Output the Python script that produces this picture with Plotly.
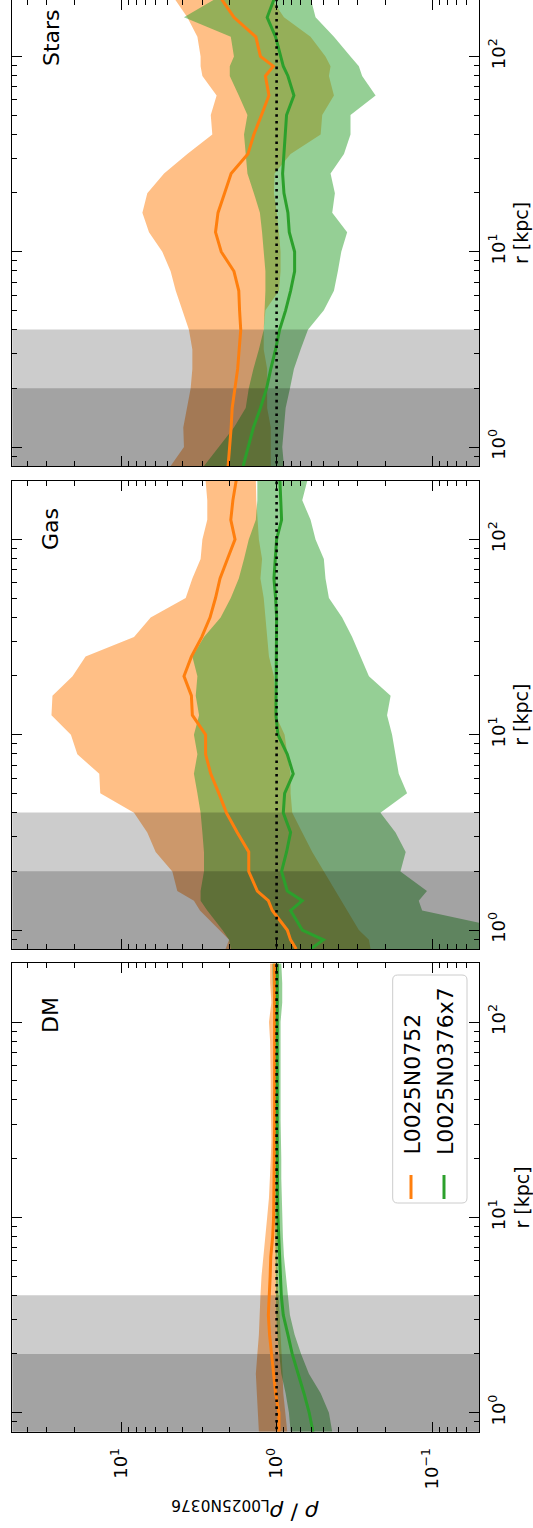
import math
import plotly.graph_objects as go

W, H = 533, 1528

# ---------------- data ----------------
# radius grids (kpc)
r_dm = [0.8, 1.0, 1.259, 1.585, 1.995, 2.512, 3.162, 3.981, 5.012, 6.310, 7.943, 10.0, 12.59,
        15.85, 19.95, 25.12, 31.62, 39.81, 50.12, 63.10, 79.43, 100.0, 125.9, 158.5, 199.5]
r_gas = [0.8, 0.891, 1.0, 1.259, 1.413, 1.585, 1.995, 2.512, 3.162, 3.981, 5.012, 6.310, 7.943,
         10.0, 12.59, 15.85, 19.95, 25.12, 31.62, 39.81, 50.12, 63.10, 79.43, 100.0, 125.9, 158.5, 199.5]
r_stars = [0.8, 1.0, 1.259, 1.585, 1.995, 2.512, 3.162, 3.981, 5.012, 6.310, 7.943, 10.0, 12.59,
           15.85, 19.95, 25.12, 31.62, 39.81, 50.12, 63.10, 79.43, 89.13, 100.0, 125.9, 158.5, 199.5]

# DM
dm_l752 = [0.966, 0.966, 1.015, 1.045, 1.08, 1.11, 1.13, 1.11, 1.10, 1.09, 1.06, 1.045, 1.04,
           1.035, 1.03, 1.03, 1.03, 1.03, 1.03, 1.03, 1.03, 1.03, 1.03, 1.03, 1.03]
dm_l752_lo = [0.854, 0.875, 0.906, 0.915, 0.929, 0.943, 0.961, 0.980, 0.985, 0.990, 0.990, 0.990, 0.990,
              0.990, 0.990, 0.985, 0.985, 0.985, 0.980, 0.980, 0.980, 0.975, 0.975, 0.970, 0.966]
dm_l752_hi = [1.30, 1.32, 1.34, 1.36, 1.33, 1.30, 1.28, 1.27, 1.25, 1.22, 1.18, 1.15, 1.12,
              1.10, 1.09, 1.08, 1.08, 1.09, 1.09, 1.09, 1.10, 1.12, 1.08, 1.10, 1.10]
dm_x7 = [0.584, 0.617, 0.667, 0.726, 0.793, 0.846, 0.906, 0.933, 0.947, 0.961, 0.971, 0.980, 0.985,
         0.990, 0.990, 0.990, 0.990, 0.990, 0.990, 0.990, 0.990, 0.990, 0.990, 0.990, 0.990]
dm_x7_lo = [0.439, 0.461, 0.521, 0.620, 0.695, 0.766, 0.821, 0.846, 0.875, 0.897, 0.911, 0.920, 0.929,
            0.933, 0.933, 0.943, 0.943, 0.943, 0.943, 0.952, 0.952, 0.943, 0.920, 0.920, 0.933]
dm_x7_hi = [0.813, 0.833, 0.875, 0.933, 0.966, 0.990, 1.005, 1.015, 1.015, 1.015, 1.02, 1.025, 1.03,
            1.03, 1.03, 1.03, 1.03, 1.03, 1.03, 1.035, 1.04, 1.04, 1.05, 1.06, 1.066]

# Gas
gas_l752 = [0.748, 0.813, 0.854, 1.066, 1.13, 1.33, 1.51, 1.51, 1.79, 2.10, 2.35, 2.65, 2.86, 2.86,
            3.48, 3.53, 3.94, 3.53, 3.03, 2.68, 2.47, 2.31, 2.07, 1.85, 1.97, 1.91, 1.82]
gas_l752_lo = [0.249, 0.255, 0.296, 0.352, 0.384, 0.418, 0.497, 0.590, 0.684, 0.793, 0.813, 0.813, 0.854,
               0.888, 1.015, 1.03, 1.04, 1.12, 1.15, 1.18, 1.21, 1.27, 1.24, 1.30, 1.33, 1.35, 1.36]
gas_l752_hi = [2.13, 2.02, 2.35, 3.11, 3.40, 4.35, 4.68, 5.99, 6.78, 8.25, 13.6, 13.8, 19.1, 21.0,
               28.0, 27.6, 20.5, 16.9, 8.25, 6.45, 3.84, 3.48, 3.08, 3.00, 2.79, 2.79, 2.86]
gas_x7 = [0.605, 0.50, 0.684, 0.813, 0.684, 0.854, 0.929, 0.863, 0.813, 0.906, 0.888, 0.782, 0.854,
          0.980, 1.01, 1.01, 1.00, 1.00, 1.01, 1.00, 1.015, 1.04, 1.02, 1.00, 0.929, 0.943, 0.952]
gas_x7_lo = [0.03, 0.03, 0.03, 0.116, 0.122, 0.108, 0.160, 0.148, 0.172, 0.215, 0.145, 0.164, 0.172,
             0.181, 0.195, 0.185, 0.255, 0.289, 0.327, 0.379, 0.461, 0.485, 0.497, 0.562, 0.605, 0.684, 0.635]
gas_x7_hi = [1.97, 2.02, 2.23, 2.79, 3.08, 3.08, 2.93, 2.93, 3.00, 3.08, 3.23, 3.40, 3.23, 3.40,
             3.15, 3.31, 3.23, 3.48, 2.93, 2.29, 1.97, 1.75, 1.62, 1.51, 1.36, 1.33, 1.33]

# Stars
stars_l752 = [2.05, 2.00, 1.96, 1.93, 1.85, 1.78, 1.74, 1.70, 1.73, 1.75, 1.88, 2.27, 2.47,
              2.38, 2.16, 1.96, 1.53, 1.40, 1.25, 1.12, 1.18, 1.05, 1.27, 1.36, 1.88, 2.29]
stars_l752_lo = [1.09, 1.09, 1.09, 1.15, 1.15, 1.15, 1.21, 1.21, 1.18, 0.966, 0.943, 0.943, 0.966,
                 0.996, 1.04, 1.03, 0.813, 0.521, 0.509, 0.428, 0.461, 0.450, 0.485, 0.605, 0.897, 1.09]
stars_l752_hi = [4.80, 3.94, 3.98, 3.75, 3.57, 3.48, 3.48, 3.66, 4.04, 4.45, 4.80, 5.43, 6.61,
                 7.29, 6.78, 5.29, 3.75, 2.59, 2.65, 2.43, 3.00, 3.08, 3.08, 3.23, 3.75, 4.57]
stars_x7 = [1.64, 1.53, 1.41, 1.27, 1.16, 1.09, 1.015, 0.957, 0.875, 0.813, 0.766, 0.766, 0.829,
            0.846, 0.897, 0.915, 0.897, 0.888, 0.863, 0.774, 0.846, 0.906, 0.943, 1.015, 1.15, 1.03]
stars_x7_lo = [0.897, 0.920, 0.897, 0.875, 0.821, 0.774, 0.701, 0.629, 0.497, 0.428, 0.404, 0.384, 0.352,
               0.439, 0.422, 0.450, 0.369, 0.335, 0.335, 0.231, 0.282, 0.296, 0.335, 0.428, 0.562, 0.605]
stars_x7_hi = [2.93, 2.35, 1.88, 1.58, 1.51, 1.41, 1.30, 1.21, 1.19, 1.18, 1.18, 1.21, 1.24,
               1.28, 1.40, 1.54, 1.58, 1.62, 1.54, 1.75, 2.00, 2.00, 1.88, 1.97, 3.94, 2.41]

panel_names = ["DM", "Gas", "Stars"]
series_names = ["L0025N0752", "L0025N0376x7"]
resolution_limits = [4.0, 2.0]          # kpc, shaded regions
ratio_limits = [0.05, 50.0]
r_limits = [0.8, 200.0]
unity = 1.0
ratio_ticks = [0.1, 1, 10]
ratio_ticktext = ["10<sup>\u22121</sup>", "10<sup>0</sup>", "10<sup>1</sup>"]
r_ticks = [1, 10, 100]
r_ticktext = ["10<sup>0</sup>", "10<sup>1</sup>", "10<sup>2</sup>"]

ORANGE = "#ff7f0e"
GREEN = "#2ca02c"
FONT = "DejaVu Sans"

# ---------------- layout geometry (pixels) ----------------
def px(x):
    return x / W

def py(y):
    return 1 - y / H

X_L, X_R = 12.3, 479.0
panel_px = {"DM": (963.3, 1431.7), "Gas": (480.7, 949.0), "Stars": (0.0, 466.0)}
DEC = 195.33  # px per decade of r

fig = go.Figure()

panels = [
    ("DM", r_dm, dm_l752, dm_l752_lo, dm_l752_hi, dm_x7, dm_x7_lo, dm_x7_hi),
    ("Gas", r_gas, gas_l752, gas_l752_lo, gas_l752_hi, gas_x7, gas_x7_lo, gas_x7_hi),
    ("Stars", r_stars, stars_l752, stars_l752_lo, stars_l752_hi, stars_x7, stars_x7_lo, stars_x7_hi),
]

minor_ratio = [d * 10 ** e for e in (-2, -1, 0, 1) for d in range(2, 10)]
minor_r = [d * 10 ** e for e in (-1, 0, 1, 2) for d in range(2, 10)]

for i, (name, r, o, olo, ohi, g, glo, ghi) in enumerate(panels):
    sfx = "" if i == 0 else str(i + 1)
    xa, ya = "x" + sfx, "y" + sfx
    # bands
    fig.add_trace(go.Scatter(x=olo + ohi[::-1], y=r + r[::-1], fill="toself", mode="lines",
                             line=dict(width=0), fillcolor="rgba(255,127,14,0.5)",
                             xaxis=xa, yaxis=ya, showlegend=False, hoverinfo="skip"))
    fig.add_trace(go.Scatter(x=glo + ghi[::-1], y=r + r[::-1], fill="toself", mode="lines",
                             line=dict(width=0), fillcolor="rgba(44,160,44,0.5)",
                             xaxis=xa, yaxis=ya, showlegend=False, hoverinfo="skip"))
    # shaded resolution regions
    for lim in resolution_limits:
        fig.add_trace(go.Scatter(x=[ratio_limits[0] / 2, ratio_limits[1] * 2, ratio_limits[1] * 2, ratio_limits[0] / 2],
                                 y=[r_limits[0] / 2, r_limits[0] / 2, lim, lim], fill="toself", mode="lines",
                                 line=dict(width=0), fillcolor="rgba(0,0,0,0.2)",
                                 xaxis=xa, yaxis=ya, showlegend=False, hoverinfo="skip"))
    # median lines
    fig.add_trace(go.Scatter(x=o, y=r, mode="lines", line=dict(color=ORANGE, width=3),
                             xaxis=xa, yaxis=ya, showlegend=False))
    fig.add_trace(go.Scatter(x=g, y=r, mode="lines", line=dict(color=GREEN, width=3),
                             xaxis=xa, yaxis=ya, showlegend=False))
    fig.add_trace(go.Scatter(x=[unity, unity], y=[r_limits[0] / 2, r_limits[1] * 2], mode="lines",
                             line=dict(color="black", width=2.6, dash="2.6px,4.2px"),
                             xaxis=xa, yaxis=ya, showlegend=False))

    top, bot = panel_px[name]
    lo_r = math.log10(r_limits[0])
    hi_r = lo_r + (bot - top) / DEC
    common = dict(showline=True, linecolor="black", linewidth=1, mirror="allticks",
                  ticks="inside", ticklen=10, tickwidth=1, tickcolor="black",
                  showgrid=False, zeroline=False,
                  tickfont=dict(family=FONT, size=18, color="black"))
    fig.layout["xaxis" + sfx] = dict(
        type="log", range=[math.log10(ratio_limits[1]), math.log10(ratio_limits[0])],
        domain=[px(X_L), px(X_R)], anchor=ya, tickmode="array", tickvals=ratio_ticks,
        ticktext=ratio_ticktext, tickangle=-90, showticklabels=(i == 0), ticklabelstandoff=8,
        minor=dict(tickmode="array", tickvals=minor_ratio, ticks="inside", ticklen=5,
                   tickwidth=1, tickcolor="black", showgrid=False),
        **common)
    fig.layout["yaxis" + sfx] = dict(
        type="log", range=[lo_r, hi_r], domain=[py(bot), py(top)], anchor=xa, side="right",
        tickmode="array", tickvals=r_ticks, ticktext=r_ticktext, tickangle=-90, ticklabelstandoff=3,
        minor=dict(tickmode="array", tickvals=minor_r, ticks="inside", ticklen=5,
                   tickwidth=1, tickcolor="black", showgrid=False),
        **common)

annotations = []
label_y = {"DM": 1015, "Gas": 529, "Stars": 38}
for name in panel_names:
    annotations.append(dict(x=px(51), y=py(label_y[name]), xref="paper", yref="paper", text=name,
                            textangle=-90, showarrow=False, xanchor="center", yanchor="middle",
                            font=dict(family=FONT, size=22, color="black")))
    top, bot = panel_px[name]
    annotations.append(dict(x=px(521), y=py((top + bot) / 2 if name != "Stars" else 233), xref="paper",
                            yref="paper", text="r [kpc]", textangle=-90, showarrow=False,
                            xanchor="center", yanchor="middle",
                            font=dict(family=FONT, size=19, color="black")))

annotations.append(dict(x=px(245), y=py(1511), xref="paper", yref="paper",
                        text="<i>\u03c1</i> / <i>\u03c1</i><sub>L0025N0376</sub>", textangle=180,
                        showarrow=False, xanchor="center", yanchor="middle",
                        font=dict(family=FONT, size=22, color="black")))

# legend (drawn rotated to match the figure)
LEG_L, LEG_R, LEG_T, LEG_B = 392.7, 467.0, 975.0, 1203.0
rad = 5
path = (f"M {px(LEG_L + rad)},{py(LEG_T)} L {px(LEG_R - rad)},{py(LEG_T)} "
        f"Q {px(LEG_R)},{py(LEG_T)} {px(LEG_R)},{py(LEG_T + rad)} "
        f"L {px(LEG_R)},{py(LEG_B - rad)} Q {px(LEG_R)},{py(LEG_B)} {px(LEG_R - rad)},{py(LEG_B)} "
        f"L {px(LEG_L + rad)},{py(LEG_B)} Q {px(LEG_L)},{py(LEG_B)} {px(LEG_L)},{py(LEG_B - rad)} "
        f"L {px(LEG_L)},{py(LEG_T + rad)} Q {px(LEG_L)},{py(LEG_T)} {px(LEG_L + rad)},{py(LEG_T)} Z")
shapes = [dict(type="path", path=path, xref="paper", yref="paper", line=dict(color="#cccccc", width=1),
               fillcolor="rgba(255,255,255,0.8)", layer="above")]
leg_x = [411, 444]
leg_col = [ORANGE, GREEN]
for k, nm in enumerate(series_names):
    shapes.append(dict(type="line", xref="paper", yref="paper", x0=px(leg_x[k]), x1=px(leg_x[k]),
                       y0=py(1175), y1=py(1199), line=dict(color=leg_col[k], width=3), layer="above"))
    annotations.append(dict(x=px(leg_x[k] + 1), y=py(1157), xref="paper", yref="paper", text=nm,
                            textangle=-90, showarrow=False, xanchor="center", yanchor="bottom",
                            font=dict(family=FONT, size=22, color="black")))

fig.update_layout(width=W, height=H, margin=dict(l=0, r=0, t=0, b=0), autosize=False,
                  paper_bgcolor="white", plot_bgcolor="white", showlegend=False,
                  annotations=annotations, shapes=shapes)

fig.write_html("out.html")
